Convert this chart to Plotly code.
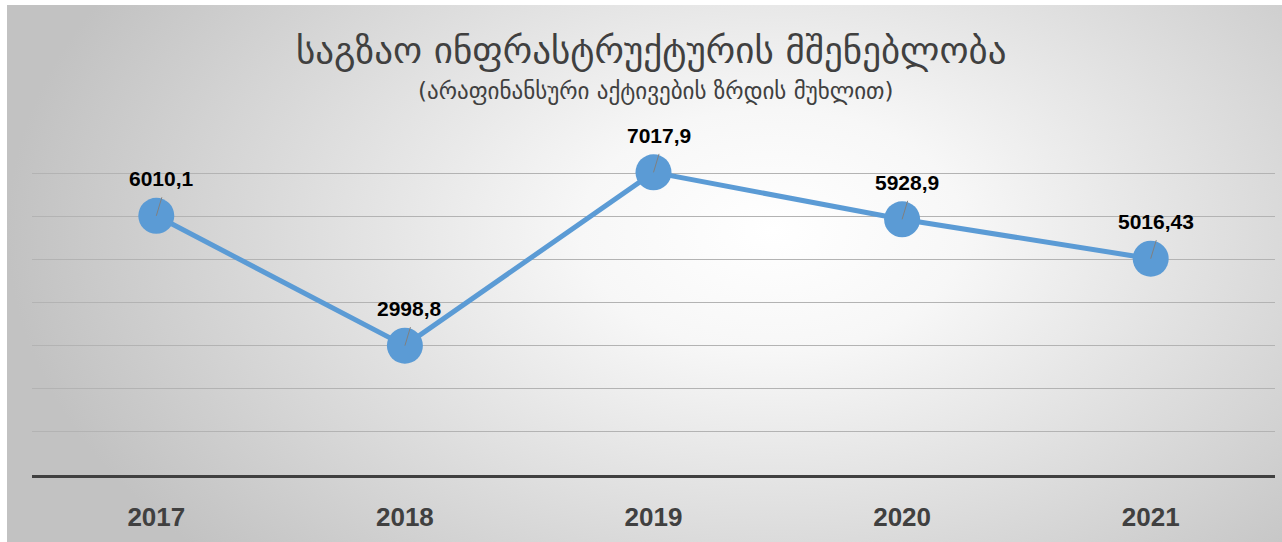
import base64
import plotly.graph_objects as go

# ---- data ----
years = ["2017", "2018", "2019", "2020", "2021"]
values = [6010.1, 2998.8, 7017.9, 5928.9, 5016.43]
value_labels = ["6010,1", "2998,8", "7017,9", "5928,9", "5016,43"]
title_text = "საგზაო ინფრასტრუქტურის მშენებლობა"
subtitle_text = "(არაფინანსური აქტივების ზრდის მუხლით)"

W, H = 1282, 542
L, R, T, B = 32, 7, 129, 67
pw, ph = W - L - R, H - T - B

blue = "#5B9BD5"
dark = "#404040"
xi = list(range(len(years)))

svg = '''<svg xmlns="http://www.w3.org/2000/svg" width="1275" height="537" viewBox="0 0 1275 537" preserveAspectRatio="none">
<defs><radialGradient id="g" gradientUnits="objectBoundingBox" cx="0.6" cy="0.42" r="0.6"
 gradientTransform="translate(0.6 0.42) scale(1 1.5) translate(-0.6 -0.42)">
<stop offset="0" stop-color="#ffffff"/><stop offset="0.25" stop-color="#f7f7f7"/>
<stop offset="1" stop-color="#c2c2c2"/></radialGradient></defs>
<rect x="0" y="0" width="1275" height="537" fill="url(#g)"/></svg>'''
src = "data:image/svg+xml;base64," + base64.b64encode(svg.encode()).decode()

fig = go.Figure()
fig.add_trace(go.Scatter(
    x=xi, y=values, mode="lines+markers",
    line=dict(color=blue, width=5),
    marker=dict(size=36, color=blue, line=dict(width=0)),
    hoverinfo="skip", showlegend=False,
))

annotations = []
for x, y, lab in zip(xi, values, value_labels):
    annotations.append(dict(x=x, y=y, xref="x", yref="y", text=f"<b>{lab}</b>", showarrow=False,
                            xshift=5, yshift=37,
                            font=dict(family="Liberation Sans", size=21, color="#000000")))
    annotations.append(dict(x=x, y=y, xref="x", yref="y", text="", showarrow=True,
                            ax=6, ay=-20, arrowhead=0, arrowwidth=1, arrowcolor="#808080",
                            standoff=0, startstandoff=0))

annotations.append(dict(x=(651 - L) / pw, y=(H - B - 50) / ph, xref="paper", yref="paper",
                        text=title_text, showarrow=False, xanchor="center", yanchor="middle",
                        font=dict(family="DejaVu Sans", size=37, color=dark)))
annotations.append(dict(x=(656 - L) / pw, y=(H - B - 91) / ph, xref="paper", yref="paper",
                        text=subtitle_text, showarrow=False, xanchor="center", yanchor="middle",
                        font=dict(family="DejaVu Sans", size=23, color=dark)))

fig.update_layout(
    width=W, height=H,
    margin=dict(l=L, r=R, t=T, b=B, pad=0),
    paper_bgcolor="#ffffff", plot_bgcolor="rgba(0,0,0,0)",
    annotations=annotations,
    images=[dict(source=src, xref="paper", yref="paper",
                 x=(7 - L) / pw, y=(H - B - 5) / ph,
                 sizex=(W - 7) / pw, sizey=(H - 5) / ph,
                 xanchor="left", yanchor="top", sizing="stretch", layer="below")],
    xaxis=dict(range=[-0.5, 4.5], showgrid=False, zeroline=False,
               showline=True, linecolor=dark, linewidth=3, ticks="",
               tickvals=xi, ticktext=[f"<b>{y}</b>" for y in years],
               tickfont=dict(family="Liberation Sans", size=26, color=dark),
               ticklabelstandoff=17, fixedrange=True),
    yaxis=dict(range=[0, 8023], dtick=1000, showticklabels=False, showgrid=True,
               gridcolor="#b3b3b3", gridwidth=1, zeroline=False, showline=False,
               fixedrange=True),
)

fig.write_html("out.html", config={"displayModeBar": False},
               post_script="document.body.style.margin='0';")
